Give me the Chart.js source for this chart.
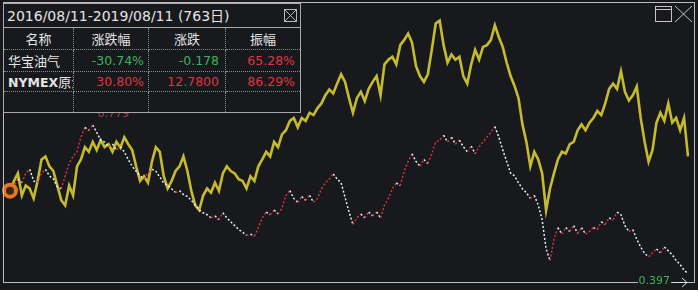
<!DOCTYPE html>
<html>
<head>
<meta charset="utf-8">
<script src="https://cdn.jsdelivr.net/npm/chart.js@4"></script>
<style>
  html, body { margin:0; padding:0; background:#18191d; }
  #wrap { position:relative; width:698px; height:290px; overflow:hidden; }
  #chart { position:absolute; left:0; top:0; }
  #tbl {
    position:absolute; left:3px; top:3px; width:298px; height:110px; box-sizing:border-box;
    border:1px solid #a9a9a9; background:#18191d; z-index:3; color:#e4e4e4;
    font-family:'DejaVu Sans','Noto Sans CJK SC',sans-serif;
  }
  #tbl .title {
    position:absolute; left:0; top:0; width:296px; height:24px; box-sizing:border-box;
    border-bottom:1px solid #a9a9a9; padding-left:3px; line-height:23px; font-size:14px; white-space:nowrap;
  }
  #tbl .title svg { position:absolute; left:280px; top:5px; }
  #tbl .cell {
    position:absolute; box-sizing:border-box; overflow:hidden; white-space:nowrap;
    font-size:12.5px; border-color:#8c8c8c;
  }
  #tbl .cjk { font-family:'Noto Sans CJK SC',sans-serif; font-size:13px; }
  .up { color:#de3641; }
  .down { color:#3bb35b; }
  .lbl { position:absolute; font:11px/11px 'DejaVu Sans',sans-serif; z-index:2; white-space:nowrap; }
</style>
</head>
<body>
<div id="wrap">
  <canvas id="chart" width="698" height="290"></canvas>
  <div id="maxLbl" class="lbl up" style="color:#a3404c"></div>
  <div id="minLbl" class="lbl down" style="background:#18191d;padding:0 1px"></div>
  <div id="tbl"></div>
</div>
<script>
// ── Data ─────────────────────────────────────
const DATE_FROM = '2016/08/11';
const DATE_TO   = '2019/08/11';
const DAYS      = 763;

const COLUMNS = ['名称', '涨跌幅', '涨跌', '振幅'];
const ROW_NAMES = ['华宝油气', 'NYMEX原油'];
const PCT_CHG   = ['-30.74%', '30.80%'];
const CHG       = ['-0.178', '12.7800'];
const AMPLITUDE = ['65.28%', '86.29%'];

// 华宝油气 (fund price)
const huabao = [
  0.610, 0.623, 0.640, 0.630, 0.655, 0.665, 0.635, 0.630, 0.655, 0.665,
  0.648, 0.640, 0.620, 0.615, 0.648, 0.680, 0.698, 0.710, 0.748, 0.773,
  0.765, 0.779, 0.760, 0.740, 0.735, 0.723, 0.730, 0.715, 0.723, 0.710,
  0.690, 0.673, 0.660, 0.648, 0.640, 0.655, 0.665, 0.660, 0.645, 0.630,
  0.623, 0.615, 0.605, 0.610, 0.600, 0.595, 0.585, 0.573, 0.560, 0.553,
  0.548, 0.540, 0.545, 0.535, 0.553, 0.540, 0.530, 0.520, 0.510, 0.503,
  0.495, 0.498, 0.493, 0.515, 0.540, 0.555, 0.548, 0.560, 0.550, 0.565,
  0.598, 0.610, 0.590, 0.580, 0.595, 0.585, 0.598, 0.580, 0.590, 0.615,
  0.630, 0.640, 0.653, 0.640, 0.630, 0.593, 0.555, 0.523, 0.540, 0.550,
  0.540, 0.555, 0.545, 0.555, 0.540, 0.573, 0.590, 0.615, 0.630, 0.623,
  0.660, 0.685, 0.705, 0.685, 0.673, 0.690, 0.680, 0.705, 0.735, 0.740,
  0.753, 0.735, 0.748, 0.730, 0.740, 0.723, 0.710, 0.725, 0.705, 0.723,
  0.735, 0.748, 0.760, 0.775, 0.748, 0.715, 0.685, 0.655, 0.648, 0.630,
  0.615, 0.605, 0.590, 0.598, 0.573, 0.535, 0.460, 0.430, 0.485, 0.515,
  0.498, 0.515, 0.505, 0.520, 0.500, 0.515, 0.498, 0.505, 0.515, 0.510,
  0.530, 0.523, 0.540, 0.535, 0.555, 0.548, 0.520, 0.505, 0.510, 0.485,
  0.465, 0.448, 0.440, 0.450, 0.460, 0.450, 0.465, 0.455, 0.445, 0.430,
  0.420, 0.405, 0.397
];

// NYMEX原油 (USD / bbl)
const nymex = [
  45.0, 47.0, 48.3, 44.5, 46.2, 45.7, 44.0, 47.0, 50.7, 51.2,
  49.5, 48.7, 46.2, 43.7, 42.8, 46.2, 44.5, 49.5, 50.7, 52.8,
  52.0, 53.7, 52.3, 54.0, 52.8, 53.3, 52.0, 53.7, 52.7, 54.5,
  53.3, 52.3, 49.5, 47.0, 47.8, 46.7, 50.3, 52.8, 52.0, 47.8,
  45.7, 47.0, 48.7, 49.5, 51.2, 48.7, 45.3, 42.8, 42.0, 44.5,
  45.7, 45.0, 46.7, 45.3, 48.3, 49.5, 48.7, 48.3, 47.3, 47.0,
  45.7, 47.8, 47.0, 49.5, 50.7, 52.0, 51.2, 53.7, 52.8, 55.0,
  55.7, 57.3, 57.8, 56.2, 57.8, 57.3, 58.7, 58.3, 59.5, 60.3,
  61.7, 62.7, 62.0, 63.7, 65.3, 64.0, 61.2, 58.7, 61.2, 62.3,
  60.7, 62.8, 64.0, 65.0, 61.7, 67.0, 67.8, 68.3, 67.0, 70.3,
  71.2, 72.3, 70.7, 66.7, 65.0, 64.0, 65.3, 69.5, 74.0, 74.5,
  70.3, 67.3, 68.7, 67.8, 68.3, 65.0, 63.7, 67.0, 69.5, 67.8,
  70.0, 70.3, 71.2, 73.7, 71.7, 70.0, 67.3, 65.0, 63.3, 61.2,
  56.7, 53.7, 49.5, 52.0, 50.7, 48.3, 42.0, 45.7, 48.3, 50.7,
  52.0, 51.7, 53.3, 53.7, 55.7, 56.7, 55.7, 57.0, 57.8, 59.0,
  58.3, 60.3, 62.8, 63.7, 62.8, 65.8, 62.3, 60.8, 61.7, 63.2,
  57.8, 53.7, 50.3, 52.3, 57.0, 58.7, 57.3, 60.3, 57.0, 57.8,
  55.7, 57.8, 51.2
];

// one category per sample, spread over the date range
const t0 = new Date(DATE_FROM).getTime(), t1 = new Date(DATE_TO).getTime();
const labels = huabao.map((_, i) => {
  const d = new Date(t0 + (t1 - t0) * i / (huabao.length - 1));
  return `${d.getFullYear()}/${String(d.getMonth() + 1).padStart(2, '0')}/${String(d.getDate()).padStart(2, '0')}`;
});

const RED   = '#d3333f';
const WHITE = '#dcf2f2';

// ── Table overlay ────────────────────────────
function buildTable() {
  const tbl = document.getElementById('tbl');
  const colL = [0, 70, 145, 222], colW = [70, 75, 77, 74];
  const rowT = [24, 46, 68, 88],  rowH = [22, 22, 20, 20];
  const padR = [0, 4, 6, 5];
  let html = `<div class="title">${DATE_FROM}-${DATE_TO} (${DAYS}<span class="cjk" style="font-size:14px">日</span>)
    <svg width="13" height="13"><rect x="0.5" y="0.5" width="12" height="12" fill="none" stroke="#b8b8b8"/>
    <path d="M1 1L12 12M12 1L1 12" stroke="#b8b8b8"/></svg></div>`;
  const rows = [
    COLUMNS,
    [ROW_NAMES[0], PCT_CHG[0], CHG[0], AMPLITUDE[0]],
    [ROW_NAMES[1], PCT_CHG[1], CHG[1], AMPLITUDE[1]],
    ['', '', '', '']
  ];
  rows.forEach((row, r) => {
    row.forEach((txt, c) => {
      const st = [`left:${colL[c]}px`, `top:${rowT[r]}px`, `width:${colW[c]}px`, `height:${rowH[r]}px`,
                  `line-height:${rowH[r] - (r < 3 ? 1 : 0)}px`];
      if (c < 3) st.push('border-right:1px dotted #8c8c8c');
      if (r < 3) st.push('border-bottom:1px dotted #8c8c8c');
      let cls = 'cell';
      if (r === 0) { st.push('text-align:center'); cls += ' cjk'; }
      else if (c === 0) { st.push('padding-left:4px'); if (r === 2) st.push('font-weight:bold;font-size:12.5px'); else cls += ' cjk'; }
      else {
        st.push('text-align:right', `padding-right:${padR[c]}px`);
        cls += txt.startsWith('-') ? ' down' : ' up';
      }
      const inner = (r === 2 && c === 0)
        ? txt.replace('原油', '<span class="cjk" style="font-weight:normal">原油</span>') : txt;
      html += `<div class="${cls}" style="${st.join(';')}">${inner}</div>`;
    });
  });
  tbl.innerHTML = html;
}
buildTable();

// ── Plugins ──────────────────────────────────
const framePlugin = {
  id: 'frame',
  afterDraw(chart) {
    const { ctx } = chart;
    ctx.save();
    ctx.strokeStyle = '#bdbdbd';
    ctx.lineWidth = 1;
    ctx.strokeRect(3.5, 2.5, 691, 280);
    // window buttons, top right
    ctx.strokeStyle = '#c4c4c4';
    ctx.strokeRect(655.5, 6.5, 16, 15);
    ctx.beginPath();
    ctx.moveTo(656, 9.5); ctx.lineTo(671, 9.5);
    ctx.moveTo(675, 6); ctx.lineTo(692, 22);
    ctx.moveTo(692, 6); ctx.lineTo(675, 22);
    ctx.stroke();

    // extreme labels of 华宝油气
    const xs = chart.scales.x, ys = chart.scales.y;
    const iMax = huabao.indexOf(Math.max(...huabao));
    const iMin = huabao.indexOf(Math.min(...huabao));
    const mx = xs.getPixelForValue(iMax), my = ys.getPixelForValue(huabao[iMax]);
    const nx = xs.getPixelForValue(iMin), ny = ys.getPixelForValue(huabao[iMin]);
    const maxLbl = document.getElementById('maxLbl');
    maxLbl.textContent = huabao[iMax].toFixed(3);
    maxLbl.style.left = (mx + 5) + 'px';
    maxLbl.style.top  = (my - 17) + 'px';
    const minLbl = document.getElementById('minLbl');
    minLbl.textContent = huabao[iMin].toFixed(3);
    minLbl.style.right = (698 - (nx - 17)) + 'px';
    minLbl.style.top   = (ny + 2) + 'px';
    ctx.strokeStyle = '#e0e0e0';
    ctx.beginPath();
    ctx.moveTo(nx - 16, 282.5); ctx.lineTo(nx - 1, 282.5);
    ctx.moveTo(nx - 6, 278); ctx.lineTo(nx - 1, 282.5); ctx.lineTo(nx - 6, 287);
    ctx.stroke();
    ctx.restore();
  }
};

// ── Chart ────────────────────────────────────
new Chart(document.getElementById('chart'), {
  type: 'line',
  data: {
    labels,
    datasets: [
      {
        label: ROW_NAMES[0],
        data: huabao,
        yAxisID: 'y',
        order: 1,
        borderWidth: 1.5,
        borderDash: [2, 2],
        borderColor: WHITE,
        segment: { borderColor: c => c.p1.parsed.y >= c.p0.parsed.y ? RED : WHITE },
        pointRadius: c => c.dataIndex === 0 ? 6 : 0,
        pointBorderWidth: 4,
        pointBorderColor: '#e8771f',
        pointBackgroundColor: '#3a2616',
        tension: 0
      },
      {
        label: ROW_NAMES[1],
        data: nymex,
        yAxisID: 'y2',
        order: 2,
        borderWidth: 2.6,
        borderColor: '#c4bc2e',
        pointRadius: 0,
        tension: 0
      }
    ]
  },
  options: {
    responsive: false,
    animation: false,
    layout: { padding: { left: 4, right: 6, top: 4, bottom: 8 } },
    plugins: { legend: { display: false }, tooltip: { enabled: false } },
    scales: {
      x:  { display: false },
      y:  { display: false, min: 0.38, max: 1.075 },
      y2: { display: false, position: 'right', min: 30, max: 76.33 }
    }
  },
  plugins: [framePlugin]
});
</script>
</body>
</html>
